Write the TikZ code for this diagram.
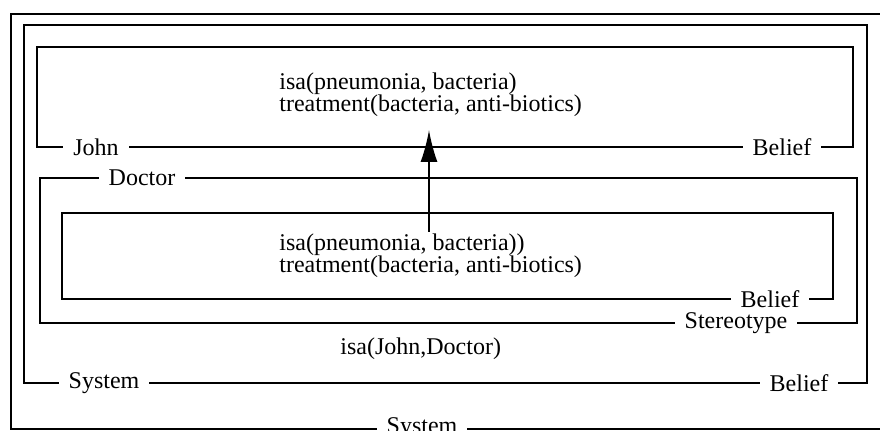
\documentclass[tikz,border=0pt]{standalone}
\usepackage{fontspec}
\setmainfont{Liberation Serif}
\usepackage{tikz}
\usetikzlibrary{
  arrows.meta,
  positioning
}
\tikzset{>={Latex[length=16pt,width=8.5pt]}}
\tikzset{font=\fontsize{12}{14}\selectfont}
\tikzset{frame/.style={line width=0.8pt}}
\tikzset{tag/.style={fill=white, inner xsep=5pt, inner ysep=1pt}}
\tikzset{fact/.style={anchor=base west, inner sep=1pt}}

\begin{document}
\begin{tikzpicture}[x=0.5pt, y=-0.5pt]
  \useasboundingbox (0,0) rectangle (880,431);
  % frames, outermost first (the outer one runs off the right edge)
  \draw[frame] (880,14) -- (11,14) -- (11,429) -- (880,429);
  \draw[frame] (24,25) rectangle (867,383);
  \draw[frame] (37,47) rectangle (853,147);
  \draw[frame] (40,178) rectangle (857,323);
  \draw[frame] (62,213) rectangle (833,299);
  % frame labels
  \node[tag] (sysout) at (422,428) {System};
  \node[tag] (syssys) at (104,383) {System};
  \node[tag] (sysbel) at (799,383) {Belief};
  \node[tag] (john) at (96,147) {John};
  \node[tag] (johnbel) at (782,147) {Belief};
  \node[tag] (doctor) at (142,178) {Doctor};
  \node[tag] (stereo) at (736,323) {Stereotype};
  \node[tag] (stereobel) at (770,299) {Belief};
  % contents
  \node[fact] (johnisa) at (277,90) {isa(pneumonia, bacteria)};
  \node[fact] (johntreat) at (277,112) {treatment(bacteria, anti-biotics)};
  \node[fact] (docisa) at (277,251) {isa(pneumonia, bacteria))};
  \node[fact] (doctreat) at (277,273) {treatment(bacteria, anti-biotics)};
  \node[fact] (sysisa) at (338,355) {isa(John,Doctor)};
  % inheritance arrow
  \coordinate (arrowtip) at (429,130);
  \draw[->, line width=0.9pt] (docisa.north -| arrowtip) -- (arrowtip);
\end{tikzpicture}
\end{document}
